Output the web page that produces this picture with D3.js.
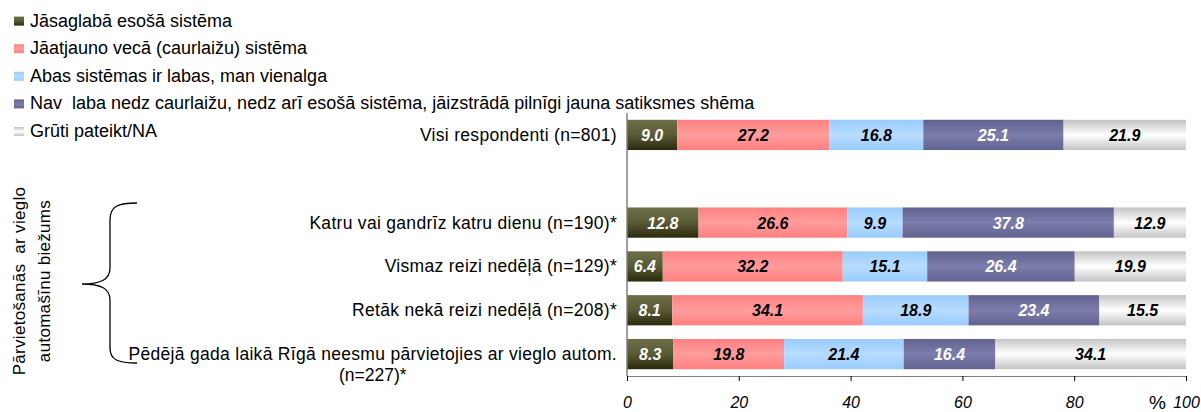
<!DOCTYPE html>
<html>
<head>
<meta charset="utf-8">
<script src="https://cdn.jsdelivr.net/npm/d3@7"></script>
<style>
  body { margin: 0; background: #fff; }
  text { font-family: "Liberation Sans", Arial, sans-serif; white-space: pre; }
</style>
</head>
<body>
<div id="chart"></div>
<script>
// answer options (legend order = stacking order)
var seriesNames = [
  "Jāsaglabā esošā sistēma",
  "Jāatjauno vecā (caurlaižu) sistēma",
  "Abas sistēmas ir labas, man vienalga",
  "Nav  laba nedz caurlaižu, nedz arī esošā sistēma, jāizstrādā pilnīgi jauna satiksmes shēma",
  "Grūti pateikt/NA"
];
// row labels, "" is the empty gap row
var categories = [
  ["Visi respondenti (n=801)"],
  [""],
  ["Katru vai gandrīz katru dienu (n=190)*"],
  ["Vismaz reizi nedēļā (n=129)*"],
  ["Retāk nekā reizi nedēļā (n=208)*"],
  ["Pēdējā gada laikā Rīgā neesmu pārvietojies ar vieglo autom.", "(n=227)*"]
];
var keepValues   = [9.0, null, 12.8, 6.4, 8.1, 8.3];
var renewValues  = [27.2, null, 26.6, 32.2, 34.1, 19.8];
var bothValues   = [16.8, null, 9.9, 15.1, 18.9, 21.4];
var newValues    = [25.1, null, 37.8, 26.4, 23.4, 16.4];
var dkValues     = [21.9, null, 12.9, 19.9, 15.5, 34.1];
var xTicks = [0, 20, 40, 60, 80, 100];
var bracketTitle = ["Pārvietošanās  ar vieglo", "automašīnu biežums"];

var valueSets = [keepValues, renewValues, bothValues, newValues, dkValues];
var grads = [
  ["#6e6e48", "#5a5a36", "#2a2a0e"],
  ["#ff8080", "#ff9c9c", "#ff8080"],
  ["#99ccff", "#b8dcff", "#99ccff"],
  ["#62628f", "#7d7dad", "#62628f"],
  ["#c4c4c4", "#ffffff", "#c4c4c4"]
];
var labelColors = ["#fff", "#000", "#000", "#fff", "#000"];

var width = 1201, height = 412;
var svg = d3.select("#chart").append("svg")
  .attr("width", width).attr("height", height);

var defs = svg.append("defs");
grads.forEach(function (g, i) {
  var lg = defs.append("linearGradient").attr("id", "g" + i)
    .attr("x1", 0).attr("y1", 0).attr("x2", 0).attr("y2", 1);
  lg.append("stop").attr("offset", "0%").attr("stop-color", g[0]);
  lg.append("stop").attr("offset", "50%").attr("stop-color", g[1]);
  lg.append("stop").attr("offset", "100%").attr("stop-color", g[2]);
});

var x = d3.scaleLinear().domain([0, 100]).range([627, 1186]);
var y = d3.scaleBand().domain(d3.range(categories.length)).range([113, 376]).paddingInner(0.31).paddingOuter(0.155);

// build stacked rows
var rows = categories.map(function (c, i) {
  var acc = 0, segs = [];
  valueSets.forEach(function (vs, s) {
    if (vs[i] == null) return;
    segs.push({ s: s, x0: acc, x1: acc + vs[i], v: vs[i], row: i });
    acc += vs[i];
  });
  return segs;
});

var segs = d3.merge(rows);
svg.selectAll("rect.bar").data(segs).enter().append("rect")
  .attr("class", "bar")
  .attr("x", function (d) { return x(d.x0); })
  .attr("y", function (d) { return y(d.row); })
  .attr("width", function (d) { return x(d.x1) - x(d.x0); })
  .attr("height", y.bandwidth())
  .attr("fill", function (d) { return "url(#g" + d.s + ")"; });

svg.selectAll("text.val").data(segs).enter().append("text")
  .attr("class", "val")
  .attr("x", function (d) { return x((d.x0 + d.x1) / 2); })
  .attr("y", function (d) { return y(d.row) + y.bandwidth() / 2 + 6; })
  .attr("text-anchor", "middle")
  .attr("font-size", "16px")
  .attr("font-weight", "bold")
  .attr("font-style", "italic")
  .attr("fill", function (d) { return labelColors[d.s]; })
  .text(function (d) { return d.v.toFixed(1); });

// vertical axis line
svg.append("line")
  .attr("x1", x(0)).attr("x2", x(0))
  .attr("y1", 113).attr("y2", 376)
  .attr("stroke", "#808080").attr("stroke-width", 1.5);

// x axis
var xAxis = svg.append("g")
  .attr("transform", "translate(0,376)")
  .call(d3.axisBottom(x).tickValues(xTicks).tickSize(5).tickSizeOuter(0).tickPadding(16));
xAxis.select(".domain").attr("stroke", "#808080");
xAxis.selectAll(".tick line").attr("stroke", "#000");
xAxis.selectAll(".tick text")
  .attr("font-size", "16px").attr("font-style", "italic")
  .attr("font-family", "Liberation Sans, Arial, sans-serif")
  .attr("fill", "#000");
svg.append("text")
  .attr("x", x(100) - 20).attr("y", 409)
  .attr("text-anchor", "end")
  .attr("font-size", "19px")
  .text("%");

// category labels
categories.forEach(function (lines, i) {
  if (!lines[0]) return;
  var cy = y(i) + y.bandwidth() / 2 + 6;
  var t = svg.append("text")
    .attr("x", 617).attr("y", cy)
    .attr("text-anchor", "end")
    .attr("font-size", "17.5px")
    .attr("letter-spacing", "0.3px")
    .text(lines[0]);
  if (lines.length > 1) {
    var w = t.node().getComputedTextLength();
    svg.append("text")
      .attr("x", 617 - w / 2).attr("y", cy + 21)
      .attr("text-anchor", "middle")
      .attr("font-size", "17.5px")
      .text(lines[1]);
  }
});

// legend
var legend = svg.selectAll("g.leg").data(seriesNames).enter().append("g")
  .attr("class", "leg")
  .attr("transform", function (d, i) { return "translate(14," + (20.6 + i * 27.6) + ")"; });
legend.append("rect")
  .attr("x", 0).attr("y", -4).attr("width", 10).attr("height", 9)
  .attr("fill", function (d, i) { return "url(#g" + i + ")"; });
legend.append("text")
  .attr("x", 16).attr("y", 6)
  .attr("font-size", "18px")
  .text(function (d) { return d; });

// bracket
svg.append("path")
  .attr("d", "M137,203 C118,203 110,206 110,220 L110,268 C110,280 100,284 82,284 C100,284 110,288 110,300 L110,348 C110,360 118,363 137,363")
  .attr("fill", "none").attr("stroke", "#000").attr("stroke-width", 1.3);

var bt = svg.append("g").attr("transform", "translate(0,281) rotate(-90)");
bracketTitle.forEach(function (line, i) {
  bt.append("text")
    .attr("x", 0).attr("y", 25 + i * 25)
    .attr("text-anchor", "middle")
    .attr("font-size", "17px")
    .attr("letter-spacing", "0.3px")
    .text(line);
});
</script>
</body>
</html>
